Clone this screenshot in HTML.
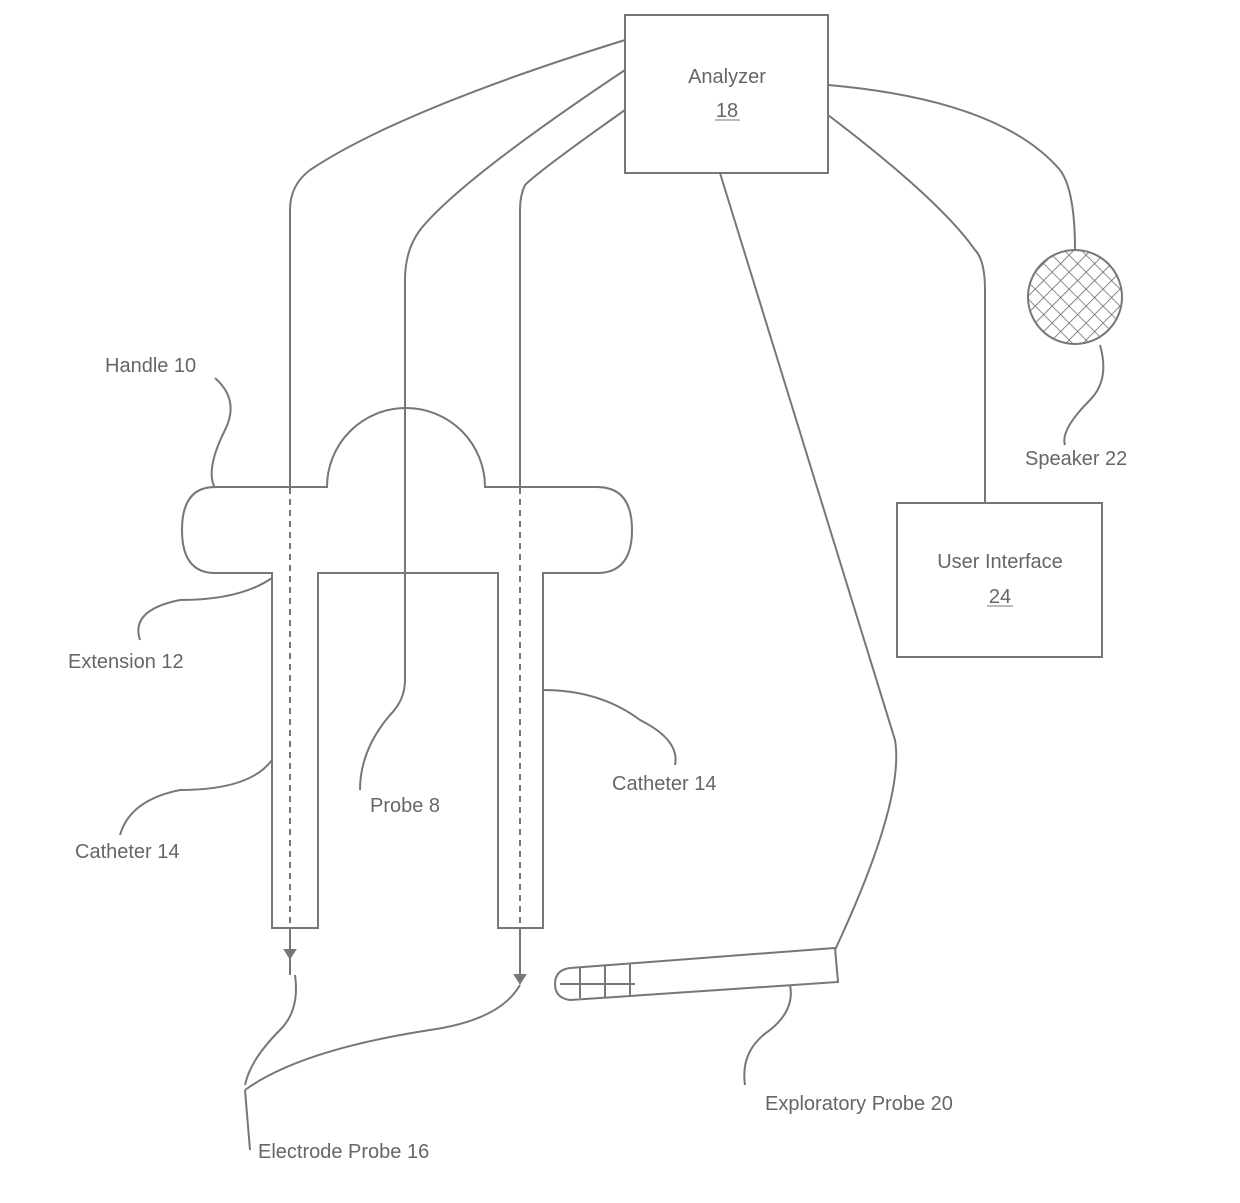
<!DOCTYPE html>
<html><head><meta charset="utf-8"><style>
html,body{margin:0;padding:0;background:#fff}
svg{display:block}
text{font-family:"Liberation Sans",sans-serif;font-size:20px;fill:#666}
</style></head><body>
<svg width="1240" height="1203" viewBox="0 0 1240 1203" xmlns="http://www.w3.org/2000/svg">
<defs>
<pattern id="hatch" width="12" height="12" patternUnits="userSpaceOnUse" patternTransform="rotate(45)">
<path d="M0 0 V12 M0 0 H12" stroke="#666" stroke-width="1.5"/>
</pattern>
</defs>
<g fill="none" stroke="#777" stroke-width="2">
<rect x="625" y="15" width="203" height="158"/>
<rect x="897" y="503" width="205" height="154"/>
<circle cx="1075" cy="297" r="47" fill="url(#hatch)"/>
<!-- handle -->
<path d="M215 487 H327 A79 79 0 0 1 485 487 H597 Q632 487 632 530 Q632 573 597 573 H543 V928 H498 V573 H318 V928 H272 V573 H215 Q182 573 182 530 Q182 487 215 487 Z"/>
<!-- wires -->
<path d="M625 40 Q400 110 310 170 Q290 185 290 210 V488"/>
<path d="M625 70 Q460 180 420 230 Q405 250 405 280 V680 Q405 700 390 715 Q360 750 360 790"/>
<path d="M625 110 Q540 170 525 185 Q520 195 520 210 V488"/>
<path d="M290 488 V928 M520 488 V928" stroke-dasharray="6 5"/>
<path d="M290 928 V975 M520 928 V980"/>
<path d="M285 950 L290 958 L295 950 Z M515 975 L520 983 L525 975 Z" fill="#777"/>
<path d="M720 173 L895 740 Q905 800 835 950"/>
<path d="M828 85 Q1000 100 1060 170 Q1075 190 1075 250"/>
<path d="M828 115 Q940 200 975 250 Q985 260 985 290 V503"/>
<!-- exploratory probe -->
<path d="M570 968 L835 948 L838 982 L570 1000 Q555 998 555 984 Q555 970 570 968 Z"/>
<path d="M580 968 V998 M605 966 V997 M630 964 V996 M560 984 H635"/>
<!-- leaders -->
<path d="M215 378 Q240 400 225 430 Q205 470 215 488"/>
<path d="M272 578 Q240 600 180 600 Q130 610 140 640"/>
<path d="M272 760 Q250 790 180 790 Q130 800 120 835"/>
<path d="M543 690 Q600 690 640 720 Q680 740 675 765"/>
<path d="M1100 345 Q1110 380 1090 400 Q1060 430 1065 445"/>
<path d="M790 985 Q795 1010 770 1030 Q740 1050 745 1085"/>
<path d="M295 975 Q300 1010 280 1030 Q250 1060 245 1085"/>
<path d="M520 985 Q500 1020 430 1030 Q300 1050 245 1090"/>
<path d="M245 1090 L250 1150"/>
</g>
<text x="727" y="83" text-anchor="middle">Analyzer</text>
<text x="727" y="117" text-anchor="middle">18</text>
<line x1="715" y1="120" x2="740" y2="120" stroke="#777"/>
<text x="1000" y="568" text-anchor="middle">User Interface</text>
<text x="1000" y="603" text-anchor="middle">24</text>
<line x1="987" y1="606" x2="1013" y2="606" stroke="#777"/>
<text x="105" y="372">Handle 10</text>
<text x="1025" y="465">Speaker 22</text>
<text x="68" y="668">Extension 12</text>
<text x="612" y="790">Catheter 14</text>
<text x="370" y="812">Probe 8</text>
<text x="75" y="858">Catheter 14</text>
<text x="765" y="1110">Exploratory Probe 20</text>
<text x="258" y="1158">Electrode Probe 16</text>
</svg>
</body></html>
